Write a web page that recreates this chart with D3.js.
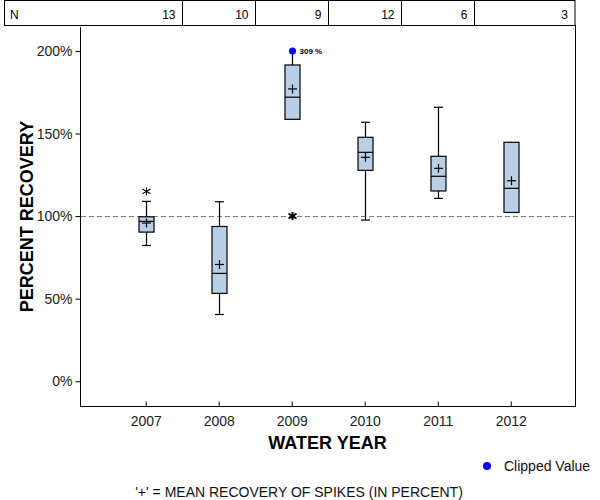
<!DOCTYPE html>
<html>
<head>
<meta charset="utf-8">
<script src="https://cdn.jsdelivr.net/npm/d3@7"></script>
<style>
  html, body { margin: 0; padding: 0; background: #fff; }
  svg { display: block; font-family: "Liberation Sans", Arial, sans-serif; }
</style>
</head>
<body>
<svg id="chart" width="600" height="500"></svg>
<script>
// ---- data ----
const years = [2007, 2008, 2009, 2010, 2011, 2012];
const nCounts = [13, 10, 9, 12, 6, 3];
const whiskerLow = [82.2, 40.4, null, 97.6, 110.7, null];
const q1 = [90.3, 53.2, 158.6, 127.7, 115.2, 102.2];
const median = [96.8, 65.3, 172.0, 138.6, 124.1, 116.8];
const q3 = [99.6, 93.7, 191.5, 147.7, 136.2, 144.7];
const whiskerHigh = [108.9, 108.7, 309, 156.8, 165.9, null];
const means = [95.8, 70.7, 177.0, 135.6, 128.9, 121.4];
const outlierYears = [2007, 2009];
const outlierValues = [115.0, 100.0];
const clipLimit = 200;
const yTicks = [0, 50, 100, 150, 200];
const referenceValue = 100;

// ---- layout ----
const svg = d3.select("#chart");
const L = 80, R = 575, T = 27, B = 406;
const x = d3.scaleLinear().domain([2006.1, 2012.88]).range([L, R]);
const y = d3.scaleLinear().domain([-15, 214.5]).range([B, T]);
const boxW = 15, capW = 9, plusS = 4.5;
const fillC = "#b9cfe6";

// N row
const nRow = svg.append("g");
nRow.append("rect").attr("x", 4.5).attr("y", 0.5).attr("width", R - 4.5).attr("height", 25)
  .attr("fill", "none").attr("stroke", "#000").attr("stroke-width", 1);
nRow.append("text").attr("x", 10).attr("y", 19).attr("font-size", 12).text("N");
years.forEach((yr, i) => {
  const right = i < years.length - 1 ? Math.round((x(yr) + x(years[i + 1])) / 2) + 0.5 : R;
  if (i < years.length - 1) {
    nRow.append("line").attr("x1", right).attr("x2", right).attr("y1", 0.5).attr("y2", 25.5)
      .attr("stroke", "#000");
  }
  nRow.append("text").attr("x", right - 7).attr("y", 19).attr("font-size", 12)
    .attr("text-anchor", "end").text(nCounts[i]);
});

// frame
svg.append("line").attr("x1", L + 0.5).attr("x2", L + 0.5).attr("y1", T).attr("y2", B + 0.5).attr("stroke", "#000");
svg.append("line").attr("x1", R + 0.5).attr("x2", R + 0.5).attr("y1", 25).attr("y2", B + 0.5).attr("stroke", "#000");
svg.append("line").attr("x1", L).attr("x2", R + 1).attr("y1", B + 0.5).attr("y2", B + 0.5).attr("stroke", "#000");

// y axis
const yAxis = d3.axisLeft(y).tickValues(yTicks).tickSize(5).tickPadding(3).tickFormat(d => d + "%");
const gy = svg.append("g").attr("transform", `translate(${L + 0.5},0)`).call(yAxis);
gy.select(".domain").remove();
gy.selectAll("text").attr("font-size", 14).attr("font-family", "Liberation Sans, Arial, sans-serif").attr("fill", "#222");

// x axis (ticks inward)
const xAxis = d3.axisBottom(x).tickValues(years).tickSize(-5).tickPadding(10).tickFormat(d3.format("d"));
const gx = svg.append("g").attr("transform", `translate(0,${B + 0.5})`).call(xAxis);
gx.select(".domain").remove();
gx.selectAll("text").attr("font-size", 14).attr("font-family", "Liberation Sans, Arial, sans-serif").attr("fill", "#222");

// reference line
svg.append("line").attr("x1", L + 1).attr("x2", R).attr("y1", Math.round(y(referenceValue)) + 0.5)
  .attr("y2", Math.round(y(referenceValue)) + 0.5)
  .attr("stroke", "#808080").attr("stroke-width", 1).attr("stroke-dasharray", "5,3");

// boxes
const g = svg.append("g").attr("stroke", "#000").attr("stroke-width", 1.2);
years.forEach((yr, i) => {
  const cx = Math.round(x(yr)) + 0.5;
  // upper whisker
  if (whiskerHigh[i] != null) {
    const clipped = whiskerHigh[i] > clipLimit;
    const top = clipped ? clipLimit : whiskerHigh[i];
    g.append("line").attr("x1", cx).attr("x2", cx).attr("y1", y(q3[i])).attr("y2", y(top));
    if (!clipped) {
      g.append("line").attr("x1", cx - capW / 2).attr("x2", cx + capW / 2).attr("y1", y(top)).attr("y2", y(top));
    }
  }
  if (whiskerLow[i] != null) {
    g.append("line").attr("x1", cx).attr("x2", cx).attr("y1", y(q1[i])).attr("y2", y(whiskerLow[i]));
    g.append("line").attr("x1", cx - capW / 2).attr("x2", cx + capW / 2).attr("y1", y(whiskerLow[i])).attr("y2", y(whiskerLow[i]));
  }
  g.append("rect").attr("x", cx - boxW / 2).attr("width", boxW)
    .attr("y", y(q3[i])).attr("height", y(q1[i]) - y(q3[i])).attr("fill", fillC);
  g.append("line").attr("x1", cx - boxW / 2).attr("x2", cx + boxW / 2).attr("y1", y(median[i])).attr("y2", y(median[i]));
  const my = y(means[i]);
  g.append("line").attr("x1", cx - plusS).attr("x2", cx + plusS).attr("y1", my).attr("y2", my);
  g.append("line").attr("x1", cx).attr("x2", cx).attr("y1", my - plusS).attr("y2", my + plusS);

  if (whiskerHigh[i] != null && whiskerHigh[i] > clipLimit) {
    svg.append("circle").attr("cx", cx).attr("cy", y(clipLimit)).attr("r", 3.5).attr("fill", "#0000ff");
    svg.append("text").attr("x", cx + 7).attr("y", y(clipLimit) + 3).attr("font-size", 8)
      .attr("font-weight", "bold").text(Math.round(whiskerHigh[i]) + " %");
  }
});

// outliers (asterisks)
outlierYears.forEach((yr, i) => {
  const cx = Math.round(x(yr)) + 0.5, cy = y(outlierValues[i]);
  const bold = outlierValues[i] === 100;
  const s = 4;
  const og = svg.append("g").attr("stroke", "#000").attr("stroke-width", bold ? 2 : 1.1);
  og.append("line").attr("x1", cx - s).attr("x2", cx + s).attr("y1", cy - s * 0.6).attr("y2", cy + s * 0.6);
  og.append("line").attr("x1", cx - s).attr("x2", cx + s).attr("y1", cy + s * 0.6).attr("y2", cy - s * 0.6);
  og.append("line").attr("x1", cx).attr("x2", cx).attr("y1", cy - s).attr("y2", cy + s);
});

// axis titles
svg.append("text").attr("x", (L + R) / 2).attr("y", 449).attr("text-anchor", "middle")
  .attr("font-size", 18).attr("font-weight", "bold").text("WATER YEAR");
svg.append("text").attr("transform", `translate(33,${(T + B) / 2}) rotate(-90)`).attr("text-anchor", "middle")
  .attr("font-size", 18).attr("font-weight", "bold").text("PERCENT RECOVERY");

// legend
svg.append("circle").attr("cx", 487).attr("cy", 466).attr("r", 4).attr("fill", "#0000ff");
svg.append("text").attr("x", 504).attr("y", 471).attr("font-size", 14).attr("fill", "#111").text("Clipped Value");

// footnote
svg.append("text").attr("x", 299).attr("y", 497).attr("text-anchor", "middle").attr("font-size", 14)
  .attr("fill", "#111").text("'+' = MEAN RECOVERY OF SPIKES (IN PERCENT)");
</script>
</body>
</html>
